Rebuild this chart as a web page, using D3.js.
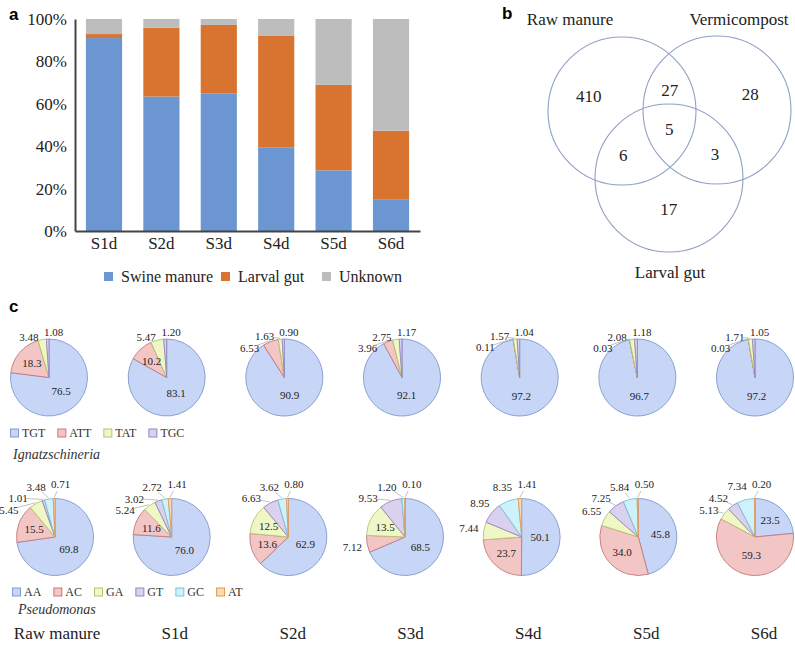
<!DOCTYPE html>
<html><head><meta charset="utf-8">
<script src="https://cdn.jsdelivr.net/npm/d3@7"></script>
<style>body{margin:0;background:#fff} svg{display:block}</style>
</head><body><svg id="c" width="795" height="648"></svg>
<script>
// ---------- data: panel a ----------
const barCategories = ["S1d","S2d","S3d","S4d","S5d","S6d"];
const swineManure = [91.0, 63.4, 64.8, 39.5, 28.6, 15.0];
const larvalGut   = [1.9, 32.5, 32.4, 52.5, 40.3, 32.3];
const unknownSrc  = [7.1, 4.1, 2.8, 8.0, 31.1, 52.7];
const barSeries = ["Swine manure","Larval gut","Unknown"];
const yTicks = [0,20,40,60,80,100];

// ---------- data: panel b ----------
const vennSets = ["Raw manure","Vermicompost","Larval gut"];
const vennOnly = [410, 28, 17];          // Raw only, Vermi only, Larval only
const vennPairs = [27, 6, 3];            // Raw∩Vermi, Raw∩Larval, Vermi∩Larval
const vennAll = 5;

// ---------- data: panel c ----------
const pieSamples = ["Raw manure","S1d","S2d","S3d","S4d","S5d","S6d"];
const ignCategories = ["TGT","ATT","TAT","TGC"];
const ignTGT = [76.5, 83.1, 90.9, 92.1, 97.2, 96.7, 97.2];
const ignATT = [18.3, 10.2, 6.53, 3.96, 0.11, 0.03, 0.03];
const ignTAT = [3.48, 5.47, 1.63, 2.75, 1.57, 2.08, 1.71];
const ignTGC = [1.08, 1.20, 0.90, 1.17, 1.04, 1.18, 1.05];
const pseCategories = ["AA","AC","GA","GT","GC","AT"];
const pseAA = [69.8, 76.0, 62.9, 68.5, 50.1, 45.8, 23.5];
const pseAC = [15.5, 11.6, 13.6, 7.12, 23.7, 34.0, 59.3];
const pseGA = [5.45, 5.24, 12.5, 13.5, 7.44, 6.55, 5.13];
const pseGT = [1.01, 3.02, 6.63, 9.53, 8.95, 7.25, 4.52];
const pseGC = [3.48, 2.72, 3.62, 1.20, 8.35, 5.84, 7.34];
const pseAT = [0.71, 1.41, 0.80, 0.10, 1.41, 0.50, 0.20];

const SERIF = "'Liberation Serif','Times New Roman',serif";
const SANS = "'Liberation Sans',Arial,sans-serif";
const svg = d3.select("#c");

// ================= panel a =================
const gA = svg.append("g");
const xA = d3.scaleBand().domain(barCategories).range([75,420]).paddingInner(0.37).paddingOuter(0.19);
const yA = d3.scaleLinear().domain([0,100]).range([231,19]);
const barColor = d3.scaleOrdinal().domain(barSeries).range(["#6b96d1","#d8742f","#bdbdbd"]);
const rows = barCategories.map((c,i)=>({cat:c,"Swine manure":swineManure[i],"Larval gut":larvalGut[i],"Unknown":unknownSrc[i]}));
const stacked = d3.stack().keys(barSeries)(rows);
gA.selectAll("g.ser").data(stacked).join("g").attr("class","ser").attr("fill",d=>barColor(d.key))
  .selectAll("rect").data(d=>d).join("rect")
  .attr("x",d=>xA(d.data.cat)).attr("width",xA.bandwidth())
  .attr("y",d=>yA(d[1])).attr("height",d=>yA(d[0])-yA(d[1]));

const yAxis = gA.append("g").attr("transform","translate(75,0)")
  .call(d3.axisLeft(yA).tickValues(yTicks).tickFormat(d=>d+"%").tickSize(0).tickSizeOuter(0).tickPadding(8));
const xAxis = gA.append("g").attr("transform","translate(0,231)")
  .call(d3.axisBottom(xA).tickSize(0).tickSizeOuter(0).tickPadding(6));
[yAxis,xAxis].forEach(ax=>{
  ax.attr("font-family",SERIF).attr("font-size",17);
  ax.select(".domain").attr("stroke","#444").attr("stroke-width",2);
  ax.selectAll("text").attr("font-family",SERIF).attr("font-size",17).attr("fill","#222");
});
// legend a
const legA = gA.append("g");
const legAX = [104, 221, 322];
barSeries.forEach((s,i)=>{
  legA.append("rect").attr("x",legAX[i]).attr("y",272).attr("width",9).attr("height",9).attr("fill",barColor(s));
  legA.append("text").attr("x",legAX[i]+17).attr("y",282).text(s)
    .attr("font-family",SERIF).attr("font-size",16).attr("fill","#222");
});
svg.append("text").attr("x",9).attr("y",20).text("a").attr("font-family",SANS).attr("font-weight","bold").attr("font-size",17);

// ================= panel b =================
const gB = svg.append("g");
const vr = 74;
const centers = [[622,111],[717,110],[669,178]];
centers.forEach(c=>{
  gB.append("circle").attr("cx",c[0]).attr("cy",c[1]).attr("r",vr)
    .attr("fill","none").attr("stroke","#8fa1c7").attr("stroke-width",1.1);
});
const G = [d3.mean(centers,c=>c[0]), d3.mean(centers,c=>c[1])];
const vtxt = (x,y,t)=>gB.append("text").attr("x",x).attr("y",y).attr("dy","0.35em").attr("text-anchor","middle")
  .text(t).attr("font-family",SERIF).attr("font-size",17).attr("fill","#222");
vennOnly.forEach((v,i)=>{
  const c = centers[i];
  vtxt(c[0]+(c[0]-G[0])*0.7, c[1]+(c[1]-G[1])*0.7, v);
});
[[0,1,2],[0,2,1],[1,2,0]].forEach((p,k)=>{
  const a=centers[p[0]], b=centers[p[1]], o=centers[p[2]];
  const m=[(a[0]+b[0])/2,(a[1]+b[1])/2];
  vtxt(m[0]+(m[0]-o[0])*0.31, m[1]+(m[1]-o[1])*0.31, vennPairs[k]);
});
vtxt(G[0], G[1]-4, vennAll);
const setLabelPos = [[570,19],[739,19],[670,272]];
vennSets.forEach((s,i)=>{
  gB.append("text").attr("x",setLabelPos[i][0]).attr("y",setLabelPos[i][1]).attr("dy","0.35em").attr("text-anchor","middle")
    .text(s).attr("font-family",SERIF).attr("font-size",17).attr("fill","#222");
});
svg.append("text").attr("x",502).attr("y",19).text("b").attr("font-family",SANS).attr("font-weight","bold").attr("font-size",17);

// ================= panel c =================
svg.append("text").attr("x",9).attr("y",312).text("c").attr("font-family",SANS).attr("font-weight","bold").attr("font-size",17);
const catStyle = {
  TGT:{fill:"#c7d6f6",stroke:"#8099cf"}, AA:{fill:"#c7d6f6",stroke:"#8099cf"},
  ATT:{fill:"#f3c6c6",stroke:"#c77878"}, AC:{fill:"#f3c6c6",stroke:"#c77878"},
  TAT:{fill:"#eff7c6",stroke:"#b3c56f"}, GA:{fill:"#eff7c6",stroke:"#b3c56f"},
  TGC:{fill:"#d9d1ee",stroke:"#9486bf"}, GT:{fill:"#d9d1ee",stroke:"#9486bf"},
  GC:{fill:"#cef1fa",stroke:"#78c4da"},
  AT:{fill:"#f9d8b2",stroke:"#e39a55"}
};
const fmt = v => v>=10 ? v.toFixed(1) : v.toFixed(2);
const pieR = 38.5;
const pieGen = d3.pie().sort(null).value(d=>d.v);
const arcGen = d3.arc().innerRadius(0).outerRadius(pieR);

function drawPie(g, cats, vals, cx, cy){
  const data = cats.map((c,i)=>({c, v: vals[i]}));
  const arcs = pieGen(data);
  const pg = g.append("g").attr("transform",`translate(${cx},${cy})`);
  pg.selectAll("path").data(arcs).join("path").attr("d",arcGen)
    .attr("fill",d=>catStyle[d.data.c].fill).attr("stroke",d=>catStyle[d.data.c].stroke).attr("stroke-width",0.9);
  const lab = arcs.map(a=>({v:a.data.v, mid:(a.startAngle+a.endAngle)/2, a}));
  const maxV = d3.max(lab,d=>d.v);
  const txt = (x,y,t)=>pg.append("text").attr("x",x).attr("y",y).attr("dy","0.35em").attr("text-anchor","middle")
      .text(t).attr("font-family",SERIF).attr("font-size",11).attr("fill","#222");
  // inside labels
  lab.filter(d=>d.v>=10).forEach(d=>{
    const rr = d.v===maxV && d.v>50 ? pieR*0.48 : pieR*0.58;
    txt(Math.sin(d.mid)*rr, -Math.cos(d.mid)*rr, fmt(d.v));
  });
  // outside labels, placed from 12 o'clock counter-clockwise, avoiding overlaps
  const R = pieR + 4*cats.length - 9;
  const out = lab.filter(d=>d.v<10).sort((a,b)=>b.mid-a.mid);
  const boxes = [];
  let prev = null;
  out.forEach(d=>{
    const t = txt(0,0,fmt(d.v));
    const w = t.node().getComputedTextLength();
    let th = prev===null ? Math.max(d.mid, 2*Math.PI-0.03)+0.13 : Math.min(d.mid, prev);
    let x, y;
    for(let k=0;k<200;k++){
      x = Math.sin(th)*R; y = -Math.cos(th)*R;
      const hit = boxes.some(b=> Math.abs(x-b.x) < (w+b.w)/2+5 && Math.abs(y-b.y) < 11);
      if(!hit) break;
      th -= 0.02;
    }
    boxes.push({x,y,w});
    prev = th;
    t.attr("x",x).attr("y",y);
    // leader line when the label sits away from its slice
    const px = Math.sin(d.mid)*(pieR+1), py = -Math.cos(d.mid)*(pieR+1);
    const dist = Math.hypot(x-px, y-py);
    if(dist > 15){
      const qx = x + (px-x)/dist*8, qy = y + (py-y)/dist*8;
      pg.append("line").attr("x1",px).attr("y1",py).attr("x2",qx).attr("y2",qy)
        .attr("stroke","#a8a8a8").attr("stroke-width",0.7);
    }
  });
}

function drawLegend(cats, x0, y){
  let x = x0;
  cats.forEach(c=>{
    svg.append("rect").attr("x",x+0.5).attr("y",y-4).attr("width",8).attr("height",8)
      .attr("fill",catStyle[c].fill).attr("stroke",catStyle[c].stroke).attr("stroke-width",1);
    const t = svg.append("text").attr("x",x+12).attr("y",y).attr("dy","0.35em").text(c)
      .attr("font-family",SERIF).attr("font-size",12).attr("fill","#333");
    x += 12 + t.node().getComputedTextLength() + 12;
  });
}

const xRow1 = d3.scalePoint().domain(pieSamples).range([49,755]);
const xRow2 = d3.scalePoint().domain(pieSamples).range([55,755]);
const gC = svg.append("g");
pieSamples.forEach((s,i)=>{
  drawPie(gC, ignCategories, [ignTGT[i],ignATT[i],ignTAT[i],ignTGC[i]], xRow1(s), 377.5);
  drawPie(gC, pseCategories, [pseAA[i],pseAC[i],pseGA[i],pseGT[i],pseGC[i],pseAT[i]], xRow2(s), 537);
});
drawLegend(ignCategories, 10, 433);
drawLegend(pseCategories, 12, 592);
svg.append("text").attr("x",13).attr("y",459).text("Ignatzschineria")
  .attr("font-family",SERIF).attr("font-style","italic").attr("font-size",14).attr("fill","#333");
svg.append("text").attr("x",18).attr("y",614).text("Pseudomonas")
  .attr("font-family",SERIF).attr("font-style","italic").attr("font-size",14).attr("fill","#333");
const xBottom = d3.scalePoint().domain(pieSamples).range([57,764]);
svg.append("g").selectAll("text").data(pieSamples).join("text")
  .attr("x",d=>xBottom(d)).attr("y",639).attr("text-anchor","middle").text(d=>d)
  .attr("font-family",SERIF).attr("font-size",17).attr("fill","#222");
</script>
</body></html>
